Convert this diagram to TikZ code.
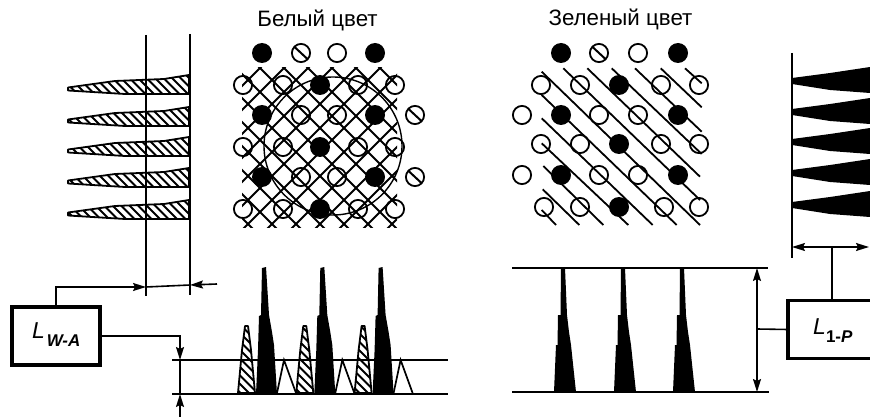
\documentclass[tikz,border=0pt]{standalone}
\usepackage{fontspec}
\setmainfont{Liberation Sans}
\usetikzlibrary{arrows.meta}
\tikzset{
  conn/.style={line width=1.6pt},
  ln/.style={line width=1.7pt},
  arr/.style={line width=1.6pt,-{Stealth[length=13pt,width=8pt,inset=2pt]}},
  darr/.style={line width=1.6pt,{Stealth[length=13pt,width=8pt,inset=2pt]}-{Stealth[length=13pt,width=8pt,inset=2pt]}},
  lbox/.style={draw,line width=3.4pt,fill=white,outer sep=0pt,inner sep=0pt,minimum height=58pt},
  ttl/.style={font=\fontsize{22.3}{26}\selectfont,inner sep=0pt,anchor=base}
}
\newcommand{\fdot}[2]{\fill (#1,#2) circle[radius=10];}
\newcommand{\opdot}[2]{\draw[line width=1.8pt] (#1,#2) circle[radius=9.1];}
\newcommand{\hdot}[2]{\draw[line width=1.8pt] (#1,#2) circle[radius=9.1];\draw[line width=2pt] (#1-7,#2-6.5) -- (#1+7,#2+6.5);}
\newcommand{\hatchshape}[2]{%
  \begin{scope}\clip #1;
    \foreach \k in {0,...,190}{\draw[line width=1.9pt] (\k*#2-450,0) -- (\k*#2,450);}
  \end{scope}
  \draw[line width=1.8pt,line join=round] #1;}
\begin{document}
\begin{tikzpicture}[x=1pt,y=-1pt]
\useasboundingbox (0,0) rectangle (870,417);
% titles
\node[ttl] (t1) at (317.5,27) {Белый цвет};
\node[ttl] (t2) at (620.5,26) {Зеленый цвет};

% left spikes
\foreach \y in {89,121,151,182,214}{
  \hatchshape{(68,\y-1.5) -- (115,\y-8) -- (164,\y-10) -- (189,\y-14) -- (189,\y+5) -- (125,\y+5) -- (68,\y+1.5) -- cycle}{8.5}
}
\draw[ln] (146,35) -- (146,296);
\draw[line width=2pt] (190,34) -- (190,295);

% white pattern grid
\begin{scope}
  \clip (242,68) rectangle (397,227);
  \foreach \c in {24,48,...,312}{\draw[line width=1.9pt] (\c+60,60) -- (\c+240,240);}
  \foreach \c in {328,352,...,616}{\draw[line width=1.9pt] (\c-60,60) -- (\c-240,240);}
\end{scope}
\draw[line width=1.4pt] (333,146) circle[radius=69];
% white dots
\fdot{262}{53}\hdot{301}{53}\opdot{337}{53}\fdot{375}{53}
\opdot{243}{85}\opdot{283}{85}\fdot{320}{85}\opdot{358}{85}\opdot{395}{85}
\fdot{262}{115}\opdot{301}{115}\opdot{337}{115}\fdot{375}{115}\hdot{415}{115}
\opdot{243}{147}\opdot{283}{147}\fdot{320}{147}\opdot{358}{147}\opdot{395}{147}
\fdot{262}{177}\opdot{301}{177}\opdot{337}{177}\fdot{375}{177}\hdot{415}{177}
\opdot{243}{209}\opdot{283}{209}\fdot{320}{209}\opdot{358}{209}\opdot{395}{209}

% green lines
\foreach \a/\b/\c/\d in {685/68.3/701.7/83.3,660.7/68.3/701.7/107.3,635/68.3/701.7/131.7,611.7/68.3/701.7/154,587.3/68.3/700/176.7,563.3/68.3/700/200,541.7/71.7/700/225,541.7/95/676.7/225,541.7/118.3/652.7/225,541.7/143.3/628.3/225,543.3/166/603.3/225,542.7/189.3/579.3/225,541.7/210/556/225}{
  \draw[line width=1.8pt] (\a,\b) -- (\c,\d);
}
% green dots
\fdot{561}{53}\hdot{599}{53}\opdot{638}{53}\fdot{678}{53}
\opdot{541}{85}\opdot{580}{85}\fdot{619}{85}\opdot{661}{85}\opdot{699}{85}
\opdot{522}{115}\fdot{561}{115}\opdot{599}{115}\opdot{638}{115}\fdot{678}{115}
\opdot{541}{144}\opdot{580}{144}\fdot{619}{144}\opdot{661}{144}\opdot{699}{144}
\opdot{522}{175}\fdot{561}{175}\opdot{599}{175}\opdot{638}{175}\fdot{678}{175}
\opdot{544}{207}\opdot{580}{207}\fdot{619}{207}\opdot{664}{207}\opdot{699}{207}

% right spikes
\foreach \y in {81,112,142,173,205}{
  \fill (792,\y-3) -- (830,\y-8) -- (850,\y-11) -- (870,\y-14) -- (870,\y+12) -- (830,\y+9) -- (792,\y+3) -- cycle;
}
\draw[line width=2pt] (792,53) -- (792,258);

% boxes
\node[lbox,minimum width=88pt] (lwa) at (56,336) {};
\node[inner sep=0pt,anchor=base west,font=\fontsize{23}{26}\selectfont\itshape] (lwat) at (32,338) {L\kern2pt\raisebox{-8pt}{\fontsize{17}{18}\selectfont\bfseries\itshape W-A}};
\node[lbox,minimum width=100pt] (lop) at (838,329.5) {};
\node[inner sep=0pt,anchor=base west,font=\fontsize{23}{26}\selectfont\itshape] (lopt) at (813,334) {L\raisebox{-8pt}{\fontsize{17}{18}\selectfont\bfseries\upshape 1-\itshape P}};

% left connectors
\coordinate (wa1) at (146,287);
\coordinate (wa2) at (190,285);
\coordinate (wa3) at (217,284);
\coordinate (wa4) at (180,360);
\coordinate (wa5) at (180,394);
\coordinate (wa6) at (180,417);
\draw[arr] (lwa.north) |- (wa1);
\draw[conn] (wa1) -- (wa2);
\draw[arr] (wa3) -- (wa2);
\draw[arr] (lwa.east) -| (wa4);
\draw[conn] (wa4) -- (wa5);
\draw[arr] (wa6) -- (wa5);

% bottom-left spikes
\draw[ln] (172,360) -- (448,360);
\foreach \d in {0,58.3,116.6}{
  \hatchshape{(238+\d,393) -- (242+\d,350) -- (245+\d,326) -- (248+\d,326) -- (251+\d,350) -- (255+\d,393) -- cycle}{8.5}
  \fill (256+\d,394) -- (258+\d,350) -- (259+\d,316) -- (261+\d,315) -- (262+\d,268) -- (266+\d,267) -- (269+\d,315) -- (272+\d,332) -- (274+\d,345) -- (277+\d,394) -- cycle;
  \draw[line width=1.7pt] (277+\d,393) -- (284+\d,360) -- (296+\d,393);
}
\draw[ln] (172,394) -- (448,394);

% middle panel
\draw[ln] (512,268) -- (768,268);
\draw[ln] (512,392) -- (769,392);
\foreach \d in {563,623,682}{
  \fill (\d-9,392) -- (\d-7,345) -- (\d-5.5,345) -- (\d-5,315) -- (\d-2.5,315) -- (\d-2,268) -- (\d+2,268) -- (\d+4,315) -- (\d+6,332) -- (\d+8,345) -- (\d+13,392) -- cycle;
}
\coordinate (m1) at (757,268);
\coordinate (m2) at (757,392);
\coordinate (m3) at (757,329);
\draw[darr] (m1) -- (m2);
\draw[conn] (m3) -- (lop.west);

% right arrow
\coordinate (r1) at (792,247);
\coordinate (r2) at (869,247);
\coordinate (r3) at (832,247);
\draw[darr] (r1) -- (r2);
\draw[conn] (r3) -- (r3 |- lop.north);
\end{tikzpicture}
\end{document}
